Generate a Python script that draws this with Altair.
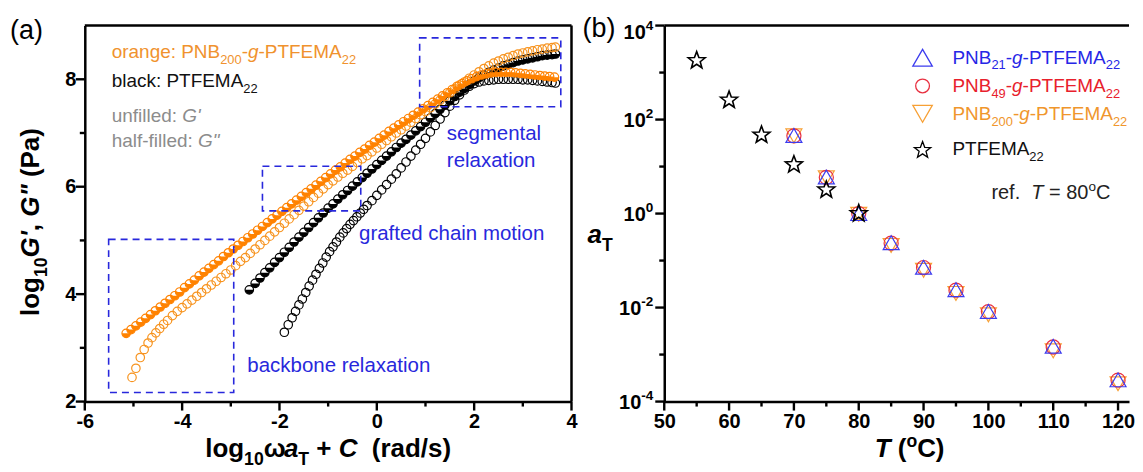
import math
import altair as alt
import pandas as pd

FONT = "Liberation Sans"

# ---------------- panel (a) data: log10 G', G'' vs log10(omega aT)+C ----------------
# orange PNB200-g-PTFEMA22, G' (unfilled)
OG1 = [(-5.03, 2.45), (-4.95, 2.62), (-4.86, 2.82), (-4.78, 2.97), (-4.70, 3.09), (-4.62, 3.19),
       (-4.54, 3.28), (-4.46, 3.36), (-4.38, 3.44), (-4.30, 3.51), (-4.20, 3.60), (-4.10, 3.68),
       (-4.00, 3.75), (-3.90, 3.82), (-3.80, 3.89), (-3.70, 3.96), (-3.60, 4.03), (-3.50, 4.10),
       (-3.40, 4.17), (-3.30, 4.24), (-3.20, 4.31), (-3.10, 4.38), (-3.00, 4.45), (-2.90, 4.53),
       (-2.80, 4.61), (-2.70, 4.68), (-2.60, 4.76), (-2.50, 4.84), (-2.40, 4.92), (-2.30, 5.00),
       (-2.20, 5.08), (-2.10, 5.16), (-2.00, 5.24), (-1.90, 5.32), (-1.80, 5.40), (-1.70, 5.48),
       (-1.60, 5.56), (-1.50, 5.64), (-1.40, 5.72), (-1.30, 5.80), (-1.20, 5.88), (-1.10, 5.96),
       (-1.00, 6.04), (-0.90, 6.11), (-0.80, 6.18), (-0.70, 6.25), (-0.60, 6.31), (-0.50, 6.38),
       (-0.40, 6.45), (-0.30, 6.52), (-0.20, 6.58), (-0.10, 6.65), (0.00, 6.72), (0.10, 6.79),
       (0.20, 6.86), (0.30, 6.93), (0.40, 7.00), (0.50, 7.06), (0.60, 7.13), (0.70, 7.20),
       (0.80, 7.27), (0.90, 7.34), (1.00, 7.40), (1.10, 7.47), (1.20, 7.54), (1.30, 7.61),
       (1.40, 7.68), (1.50, 7.75), (1.60, 7.82), (1.70, 7.89), (1.80, 7.95), (1.90, 8.02),
       (2.00, 8.08), (2.10, 8.14), (2.20, 8.20), (2.30, 8.25), (2.40, 8.30), (2.50, 8.34),
       (2.60, 8.38), (2.70, 8.41), (2.80, 8.44), (2.90, 8.47), (3.00, 8.49), (3.10, 8.51),
       (3.20, 8.53), (3.30, 8.55), (3.40, 8.56), (3.50, 8.58), (3.60, 8.59), (3.67, 8.60)]
# orange PNB200-g-PTFEMA22, G'' (half-filled)
OG2 = [(-5.15, 3.27), (-5.05, 3.34), (-4.95, 3.41), (-4.85, 3.48), (-4.75, 3.55), (-4.65, 3.62),
       (-4.55, 3.69), (-4.45, 3.76), (-4.35, 3.83), (-4.25, 3.90), (-4.15, 3.97), (-4.05, 4.04),
       (-3.95, 4.12), (-3.85, 4.19), (-3.75, 4.26), (-3.65, 4.34), (-3.55, 4.41), (-3.45, 4.48),
       (-3.35, 4.55), (-3.25, 4.62), (-3.15, 4.70), (-3.05, 4.77), (-2.95, 4.84), (-2.85, 4.91),
       (-2.75, 4.98), (-2.65, 5.05), (-2.55, 5.12), (-2.45, 5.19), (-2.35, 5.26), (-2.25, 5.33),
       (-2.15, 5.40), (-2.05, 5.47), (-1.95, 5.54), (-1.85, 5.61), (-1.75, 5.68), (-1.65, 5.75),
       (-1.55, 5.82), (-1.45, 5.89), (-1.35, 5.96), (-1.25, 6.03), (-1.15, 6.10), (-1.05, 6.17),
       (-0.95, 6.24), (-0.85, 6.31), (-0.75, 6.37), (-0.65, 6.44), (-0.55, 6.51), (-0.45, 6.57),
       (-0.35, 6.64), (-0.25, 6.70), (-0.15, 6.77), (-0.05, 6.83), (0.05, 6.90), (0.15, 6.96),
       (0.25, 7.03), (0.35, 7.09), (0.45, 7.15), (0.55, 7.21), (0.65, 7.27), (0.75, 7.33),
       (0.85, 7.39), (0.95, 7.45), (1.05, 7.51), (1.15, 7.57), (1.25, 7.63), (1.35, 7.69),
       (1.45, 7.75), (1.55, 7.81), (1.65, 7.87), (1.75, 7.92), (1.85, 7.97), (1.95, 8.01),
       (2.05, 8.05), (2.15, 8.08), (2.25, 8.10), (2.35, 8.12), (2.45, 8.13), (2.55, 8.13),
       (2.65, 8.13), (2.75, 8.13), (2.85, 8.12), (2.95, 8.11), (3.05, 8.10), (3.15, 8.09),
       (3.25, 8.08), (3.35, 8.07), (3.45, 8.06), (3.55, 8.05), (3.65, 8.04)]
# black PTFEMA22, G' (unfilled)
BG1 = [(-1.90, 3.29), (-1.82, 3.43), (-1.74, 3.56), (-1.67, 3.68), (-1.60, 3.80), (-1.53, 3.91),
       (-1.46, 4.03), (-1.39, 4.15), (-1.32, 4.26), (-1.25, 4.37), (-1.18, 4.48), (-1.11, 4.58),
       (-1.04, 4.69), (-0.97, 4.79), (-0.90, 4.88), (-0.83, 4.97), (-0.76, 5.06), (-0.69, 5.14),
       (-0.62, 5.22), (-0.55, 5.30), (-0.48, 5.37), (-0.41, 5.44), (-0.34, 5.51), (-0.27, 5.58),
       (-0.20, 5.65), (-0.10, 5.74), (0.00, 5.84), (0.10, 5.94), (0.20, 6.04), (0.30, 6.14),
       (0.40, 6.24), (0.50, 6.35), (0.60, 6.46), (0.70, 6.57), (0.80, 6.68), (0.90, 6.79),
       (1.00, 6.90), (1.10, 7.02), (1.20, 7.14), (1.30, 7.26), (1.40, 7.38), (1.50, 7.50),
       (1.60, 7.61), (1.70, 7.71), (1.80, 7.80), (1.90, 7.87), (2.00, 7.92), (2.10, 7.95),
       (2.20, 7.97), (2.30, 7.98), (2.40, 7.99), (2.50, 8.00), (2.60, 8.00), (2.70, 8.00),
       (2.80, 8.00), (2.90, 8.00), (3.00, 7.99), (3.10, 7.99), (3.20, 7.98), (3.30, 7.97),
       (3.40, 7.96), (3.50, 7.95), (3.60, 7.94), (3.67, 7.93)]
# black PTFEMA22, G'' (half-filled)
BG2 = [(-2.62, 4.08), (-2.50, 4.20), (-2.40, 4.30), (-2.30, 4.40), (-2.20, 4.49), (-2.10, 4.59),
       (-2.00, 4.68), (-1.90, 4.78), (-1.80, 4.87), (-1.70, 4.97), (-1.60, 5.06), (-1.50, 5.15),
       (-1.40, 5.24), (-1.30, 5.33), (-1.20, 5.42), (-1.10, 5.51), (-1.00, 5.60), (-0.90, 5.68),
       (-0.80, 5.77), (-0.70, 5.85), (-0.60, 5.93), (-0.50, 6.01), (-0.40, 6.09), (-0.30, 6.17),
       (-0.20, 6.25), (-0.10, 6.33), (0.00, 6.41), (0.10, 6.49), (0.20, 6.57), (0.30, 6.65),
       (0.40, 6.73), (0.50, 6.81), (0.60, 6.88), (0.70, 6.96), (0.80, 7.04), (0.90, 7.12),
       (1.00, 7.20), (1.10, 7.28), (1.20, 7.36), (1.30, 7.44), (1.40, 7.52), (1.50, 7.60),
       (1.60, 7.68), (1.70, 7.76), (1.80, 7.83), (1.90, 7.90), (2.00, 7.97), (2.10, 8.03),
       (2.20, 8.08), (2.30, 8.13), (2.40, 8.17), (2.50, 8.21), (2.60, 8.25), (2.70, 8.28),
       (2.80, 8.31), (2.90, 8.34), (3.00, 8.36), (3.10, 8.38), (3.20, 8.40), (3.30, 8.42),
       (3.40, 8.44), (3.50, 8.45), (3.60, 8.46), (3.67, 8.47)]
# dashed regions (x1, x2, y1, y2)
BOXES_A = [(-5.51, -2.94, 2.17, 5.02), (-2.35, -0.33, 5.55, 6.38), (0.88, 3.78, 7.49, 8.77)]
# tick positions
XA_MAJOR = [-6, -4, -2, 0, 2, 4]
XA_MINOR = [-5, -3, -1, 1, 3]
YA_MAJOR = [2, 4, 6, 8]
YA_MINOR = [3, 5, 7]

# ---------------- panel (b) data: shift factor aT vs T ----------------
T_PNB = [70, 75, 80, 85, 90, 95, 100, 110, 120]
AT_PNB21 = [46, 6.0, 1.0, 0.24, 0.072, 0.024, 0.0083, 0.0015, 0.00029]
AT_PNB49 = [45, 5.9, 1.0, 0.235, 0.071, 0.0235, 0.0082, 0.00145, 0.000285]
AT_PNB200 = [45, 5.8, 0.97, 0.21, 0.062, 0.020, 0.0070, 0.0012, 0.00024]
T_PT = [55, 60, 65, 70, 75, 80]
AT_PT = [1800, 260, 47, 11, 3.2, 1.0]
XB_MAJOR = [50, 60, 70, 80, 90, 100, 110, 120]
XB_MINOR = [55, 65, 75, 85, 95, 105, 115]
YB_MAJOR = [1e-4, 1e-2, 1e0, 1e2, 1e4]
YB_MINOR = [1e-3, 1e-1, 1e1, 1e3]
YB_LABEL_EXP = [4, 2, 0, -2, -4]

# ---------------- styles ----------------
OR_FILL = "#ff8200"
OR_OPEN = "#f7931e"
OR_TXT = "#f0922e"
BLUE = "#2828dc"
GRAY = "#8c8c8c"
TRI_BLUE = "#3c3cee"
CIR_RED = "#e83040"
TRI_OR = "#f7a035"
LEG_BLUE = "#2626e6"
LEG_RED = "#e8202c"
LEG_OR = "#f0962c"

HALF = "M-1,0 A1,1 0 0 0 1,0 Z"
_pts = []
for k in range(10):
    ang = math.radians(-90 + 36 * k)
    r = 1.0 if k % 2 == 0 else 0.42
    _pts.append(f"{r * math.cos(ang):.3f},{r * math.sin(ang):.3f}")
STAR = "M" + " L".join(_pts) + " Z"

WA, HA = 488, 377
WB, HB = 466, 377
XA = (-6.0, 4.0)
YA = (2.0, 9.0)
XB = (50.0, 50.0 + WB / 6.5)
YB = (1e-4, 1e4)
OXA, OXB, OY = 85, 666, 25
MSIZE = 72
TMAJ, TMIN, TW = 9, 5, 2.4


def ax_x(px): return XA[0] + (px - OXA) * (XA[1] - XA[0]) / WA
def ax_y(py): return YA[1] - (py - OY) * (YA[1] - YA[0]) / HA
def bx_x(px): return XB[0] + (px - OXB) * (XB[1] - XB[0]) / WB
def bx_y(py): return 10 ** (4 - (py - OY) * 8.0 / HB)
def bx_py(v): return OY + (4 - math.log10(v)) * HB / 8.0


# Arial / Liberation Sans advance widths (per 1000 em)
UP = "ABCDEFGHIJKLMNOPQRSTUVWXYZ"
LO = "abcdefghijklmnopqrstuvwxyz"
REG_W = dict(zip(UP, [667, 667, 722, 722, 667, 611, 778, 722, 278, 500, 667, 556, 833, 722, 778, 667, 778, 722, 667, 611, 722, 667, 944, 667, 667, 611]))
REG_W.update(zip(LO, [556, 556, 500, 556, 556, 278, 556, 556, 222, 222, 500, 222, 833, 556, 556, 556, 556, 333, 500, 278, 556, 500, 722, 500, 500, 500]))
REG_W.update({' ': 278, '"': 355, "'": 191, '(': 333, ')': 333, '+': 584, ',': 278, '-': 333, '.': 278, '/': 278, ':': 278, '=': 584, 'ω': 781})
BOLD_W = dict(zip(UP, [722, 722, 722, 722, 667, 611, 778, 722, 278, 556, 722, 611, 833, 722, 778, 667, 778, 722, 667, 611, 722, 667, 944, 667, 667, 611]))
BOLD_W.update(zip(LO, [556, 611, 556, 611, 556, 333, 611, 611, 278, 278, 556, 278, 889, 611, 611, 611, 611, 389, 556, 333, 611, 556, 778, 556, 556, 500]))
BOLD_W.update({' ': 278, '"': 474, "'": 238, '(': 333, ')': 333, '+': 584, ',': 278, '-': 333, '.': 278, '/': 278, ':': 333, '=': 584, 'ω': 781})


def tw(s, size, bold):
    tab = BOLD_W if bold else REG_W
    return sum(tab.get(c, 556) for c in s) * size / 1000.0


def line_rows(segs, x0, y0, size, color, bold=False, center=False, rot=False, right=False):
    fss = [size * (0.68 if sh else 1.0) for (_, _, sh) in segs]
    ws = [tw(t, f, bold) for (t, _, _), f in zip(segs, fss)]
    cum = -sum(ws) / 2 if center else (-sum(ws) if right else 0.0)
    rows = []
    for (t, it, sh), f, w in zip(segs, fss, ws):
        off = 0.30 * size if sh == 'sub' else (-0.42 * size if sh == 'sup' else 0.0)
        lead = len(t) - len(t.lstrip(' '))
        pos = cum + tw(' ' * lead, f, bold)
        if rot:
            px, py = x0 + off, y0 - pos
        else:
            px, py = x0 + pos, y0 + off
        if t.strip():
            rows.append(dict(px=px, py=py, text=t.strip(), fs=f, col=color,
                             b=bool(bold), i=bool(it), r=bool(rot)))
        cum += w
    return rows


def text_layers(rows, fx, fy, xs, ys, xaxis, yaxis):
    df = pd.DataFrame(rows)
    df['xd'] = [fx(v) for v in df.px]
    df['yd'] = [fy(v) for v in df.py]
    out = []
    for (b, i, r), g in df.groupby(['b', 'i', 'r']):
        out.append(alt.Chart(g[['xd', 'yd', 'text', 'fs', 'col']]).mark_text(
            align='left', baseline='alphabetic', font=FONT,
            fontWeight='bold' if b else 'normal',
            fontStyle='italic' if i else 'normal',
            angle=270 if r else 0).encode(
            x=alt.X('xd:Q', scale=xs, axis=xaxis),
            y=alt.Y('yd:Q', scale=ys, axis=yaxis),
            text='text:N',
            size=alt.Size('fs:Q', scale=None),
            color=alt.Color('col:N', scale=None)))
    return out


def tick_layers(xmaj, xmin, ymaj, ymin, xs, ys, xaxis, yaxis, h):
    out = []
    for vals, ln in ((xmaj, TMAJ), (xmin, TMIN)):
        out.append(alt.Chart(pd.DataFrame({'v': vals})).mark_rule(color='black', strokeWidth=TW).encode(
            x=alt.X('v:Q', scale=xs, axis=xaxis), y=alt.value(h), y2=alt.value(h + ln)))
    for vals, ln in ((ymaj, TMAJ), (ymin, TMIN)):
        out.append(alt.Chart(pd.DataFrame({'v': vals})).mark_rule(color='black', strokeWidth=TW).encode(
            y=alt.Y('v:Q', scale=ys, axis=yaxis), x=alt.value(0), x2=alt.value(-ln)))
    return out


def grafted(n):
    return [("PNB", 0, ''), (n, 0, 'sub'), ("-", 0, ''), ("g", 1, ''), ("-PTFEMA", 0, ''), ("22", 0, 'sub')]


# ---------------- panel (a) ----------------
XS_A = alt.Scale(domain=list(XA), nice=False, zero=False)
YS_A = alt.Scale(domain=list(YA), nice=False, zero=False)

axis_xa = alt.Axis(values=XA_MAJOR, title=None, grid=False, ticks=False, labelOverlap=False, labelFlush=False,
                   labelExpr="'' + datum.value", labelPadding=TMAJ + 1)
axis_ya = alt.Axis(values=YA_MAJOR, title=None, grid=False, ticks=False, labelOverlap=False, labelFlush=False,
                   labelExpr="'' + datum.value", labelPadding=TMAJ)


def pts(pairs, **mk):
    df = pd.DataFrame(pairs, columns=['x', 'y'])
    return alt.Chart(df).mark_point(opacity=1, **mk).encode(
        x=alt.X('x:Q', scale=XS_A, axis=axis_xa),
        y=alt.Y('y:Q', scale=YS_A, axis=axis_ya))


one = pd.DataFrame({'k': [0]})
layers_a = [
    pts(BG1, shape='circle', filled=False, size=MSIZE, strokeWidth=1.2, color='black'),
    pts(BG2, shape='circle', filled=False, size=MSIZE, strokeWidth=1.2, color='black'),
    pts(BG2, shape=HALF, filled=True, size=MSIZE, strokeWidth=0, color='black'),
    pts(OG1, shape='circle', filled=False, size=MSIZE, strokeWidth=1.2, color=OR_OPEN),
    pts(OG2, shape='circle', filled=False, size=MSIZE, strokeWidth=1.2, color=OR_FILL),
    pts(OG2, shape=HALF, filled=True, size=MSIZE, strokeWidth=0, color=OR_FILL),
    alt.Chart(pd.DataFrame(BOXES_A, columns=['x1', 'x2', 'y1', 'y2'])).mark_rect(
        fillOpacity=0, stroke=BLUE, strokeWidth=1.6, strokeDash=[7, 5]).encode(
        x=alt.X('x1:Q', scale=XS_A, axis=axis_xa), x2='x2:Q',
        y=alt.Y('y1:Q', scale=YS_A, axis=axis_ya), y2='y2:Q'),
]
layers_a += tick_layers(XA_MAJOR, XA_MINOR, YA_MAJOR, YA_MINOR, XS_A, YS_A, axis_xa, axis_ya, HA)

rows_a = []
rows_a += line_rows([("orange: PNB", 0, ''), ("200", 0, 'sub'), ("-", 0, ''), ("g", 1, ''), ("-PTFEMA", 0, ''), ("22", 0, 'sub')],
                    112, 58, 19, OR_TXT)
rows_a += line_rows([("black: PTFEMA", 0, ''), ("22", 0, 'sub')], 112, 87, 19, "#111111")
rows_a += line_rows([("unfilled: ", 0, ''), ("G'", 1, '')], 112, 122, 19, GRAY)
rows_a += line_rows([("half-filled: ", 0, ''), ('G"', 1, '')], 112, 147, 19, GRAY)
rows_a += line_rows([("segmental", 0, '')], 448, 140, 20.5, BLUE)
rows_a += line_rows([("relaxation", 0, '')], 448, 167, 20.5, BLUE)
rows_a += line_rows([("grafted chain motion", 0, '')], 360, 240, 20.5, BLUE)
rows_a += line_rows([("backbone relaxation", 0, '')], 248, 372, 20.5, BLUE)
rows_a += line_rows([("log", 0, ''), ("10", 0, 'sub'), ("ω", 0, ''), ("a", 1, ''), ("T", 0, 'sub'),
                     (" + ", 0, ''), ("C", 1, ''), ("  (rad/s)", 0, '')],
                    329, 458, 26, "black", bold=True, center=True)
rows_a += line_rows([("log", 0, ''), ("10", 0, 'sub'), ("G'", 1, ''), (", ", 0, ''), ('G"', 1, ''), (" (Pa)", 0, '')],
                    39, 222, 26, "black", bold=True, center=True, rot=True)
rows_a += line_rows([("(a)", 0, '')], 10, 38, 27, "black")
layers_a += text_layers(rows_a, ax_x, ax_y, XS_A, YS_A, axis_xa, axis_ya)
layers_a += [
    alt.Chart(one).mark_rule(color='black', strokeWidth=2.5).encode(x=alt.value(0), x2=alt.value(WA), y=alt.value(0)),
    alt.Chart(one).mark_rule(color='black', strokeWidth=2.5).encode(x=alt.value(WA), y=alt.value(0), y2=alt.value(HA)),
]
panel_a = alt.layer(*layers_a).properties(width=WA, height=HA)

# ---------------- panel (b) ----------------
XS_B = alt.Scale(domain=list(XB), nice=False, zero=False)
YS_B = alt.Scale(type='log', domain=list(YB), nice=False)
axis_xb = alt.Axis(values=XB_MAJOR, title=None, grid=False, ticks=False, labelOverlap=False, labelFlush=False,
                   labelExpr="'' + datum.value", labelPadding=TMAJ + 1)
axis_yb = alt.Axis(values=YB_MAJOR, title=None, grid=False, ticks=False, labels=False)


def pts_b(tt, aa, **mk):
    df = pd.DataFrame({'T': tt, 'a': aa})
    return alt.Chart(df).mark_point(opacity=1, filled=False, **mk).encode(
        x=alt.X('T:Q', scale=XS_B, axis=axis_xb),
        y=alt.Y('a:Q', scale=YS_B, axis=axis_yb))


leg_rows_py = [57.3, 85.5, 113.5, 150.0]
leg_df = pd.DataFrame({
    'T': [bx_x(925)] * 4,
    'a': [bx_y(v) for v in leg_rows_py],
    'shape': ['triangle-up', 'circle', 'triangle-down', STAR],
    'col': [TRI_BLUE, CIR_RED, TRI_OR, 'black'],
    'sz': [380, 190, 380, 300],
})

layers_b = [
    pts_b(T_PNB, AT_PNB200, shape='triangle-down', size=256, strokeWidth=1.2, color=TRI_OR),
    pts_b(T_PNB, AT_PNB49, shape='circle', size=200, strokeWidth=1.2, color=CIR_RED),
    pts_b(T_PNB, AT_PNB21, shape='triangle-up', size=256, strokeWidth=1.2, color=TRI_BLUE),
    pts_b(T_PT, AT_PT, shape=STAR, size=320, strokeWidth=1.6, color='black'),
    alt.Chart(leg_df).mark_point(opacity=1, filled=False, strokeWidth=1.3).encode(
        x=alt.X('T:Q', scale=XS_B, axis=axis_xb), y=alt.Y('a:Q', scale=YS_B, axis=axis_yb),
        shape=alt.Shape('shape:N', scale=None), color=alt.Color('col:N', scale=None),
        size=alt.Size('sz:Q', scale=None)),
]
layers_b += tick_layers(XB_MAJOR, XB_MINOR, YB_MAJOR, YB_MINOR, XS_B, YS_B, axis_xb, axis_yb, HB)
rows_b = []
# y tick labels 10^n with real superscripts, anchored at the decade positions
for e in YB_LABEL_EXP:
    base_py = bx_py(10.0 ** e) + 7.2 + (6 if e == 4 else 0)
    rows_b += line_rows([("10", 0, ''), (str(e), 0, 'sup')], 655, base_py, 20, "black", bold=True, right=True)
rows_b += line_rows(grafted("21"), 955, 63.3, 19, LEG_BLUE)
rows_b += line_rows(grafted("49"), 955, 91.7, 19, LEG_RED)
rows_b += line_rows(grafted("200"), 955, 119.5, 19, LEG_OR)
rows_b += line_rows([("PTFEMA", 0, ''), ("22", 0, 'sub')], 955, 155, 19, "#111111")
rows_b += line_rows([("ref.  ", 0, ''), ("T", 1, ''), (" = 80", 0, ''), ("o", 0, 'sup'), ("C", 0, '')],
                    994, 199, 20, "#222222")
rows_b += line_rows([("T", 1, ''), (" (", 0, ''), ("o", 0, 'sup'), ("C)", 0, '')],
                    912, 458, 26, "black", bold=True, center=True)
rows_b += line_rows([("a", 1, ''), ("T", 0, 'sub')], 589, 243, 26, "black", bold=True)
rows_b += line_rows([("(b)", 0, '')], 584, 36, 27, "black")
layers_b += text_layers(rows_b, bx_x, bx_y, XS_B, YS_B, axis_xb, axis_yb)
layers_b += [
    alt.Chart(one).mark_rule(color='black', strokeWidth=2.5).encode(x=alt.value(0), x2=alt.value(WB), y=alt.value(0)),
]
panel_b = alt.layer(*layers_b).properties(width=WB, height=HB)

chart = alt.hconcat(panel_a, panel_b, spacing=OXB - OXA - WA, bounds='flush').properties(
    padding={'left': 2, 'top': 6, 'right': 0, 'bottom': 0},
    background='white',
).configure_view(strokeWidth=0).configure_axis(
    domainColor='black', domainWidth=2.5,
    labelFont=FONT, labelFontSize=20, labelFontWeight='bold', labelColor='black',
)

chart.save("out.html", embed_options={"renderer": "svg", "actions": False})
